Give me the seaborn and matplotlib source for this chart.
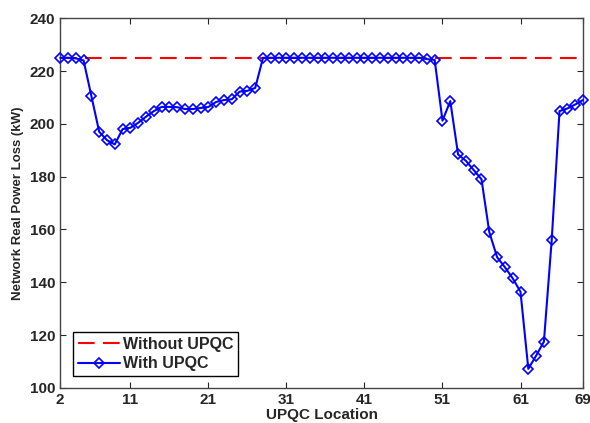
import matplotlib
matplotlib.use('Agg')
import matplotlib.pyplot as plt
import seaborn as sns
import numpy as np

# UPQC location (bus number) and network real power loss (kW)
locations = list(range(2, 70))
loss_with_upqc = [
    225.0, 225.0, 224.8, 224.0, 210.5, 197.0, 193.8, 192.2, 198.0, 198.5,   # 2-11
    200.4, 202.7, 204.8, 206.4, 206.4, 206.3, 205.6, 205.6, 206.0, 206.4,   # 12-21
    208.3, 209.0, 209.3, 212.2, 212.5, 213.6, 225.0, 225.0, 225.0, 225.0,   # 22-31
    225.0, 225.0, 225.0, 225.0, 225.0, 225.0, 225.0, 225.0, 225.0, 225.0,   # 32-41
    225.0, 225.0, 225.0, 225.0, 225.0, 225.0, 225.0, 224.5, 224.2, 201.2,   # 42-51
    208.6, 188.4, 186.0, 182.5, 179.0, 159.0, 149.5, 145.7, 141.5, 136.4,   # 52-61
    107.2, 112.2, 117.5, 156.0, 204.8, 205.8, 207.3, 209.0,                 # 62-69
]
loss_without_upqc = 225.0
xticks = [2, 11, 21, 31, 41, 51, 61, 69]

sns.set_style('ticks')
plt.rcParams['font.family'] = ['Liberation Sans', 'DejaVu Sans']
plt.rcParams['font.weight'] = 'bold'

fig = plt.figure(figsize=(5.9, 4.23), dpi=100)
ax = fig.add_axes([0.102, 0.083, 0.886, 0.874])

sns.lineplot(x=locations, y=[loss_without_upqc] * len(locations), ax=ax,
             color='red', linestyle=(0, (8, 4)), linewidth=1.5, label='Without UPQC')
sns.lineplot(x=locations, y=loss_with_upqc, ax=ax, color='blue', linewidth=1.5,
             marker='D', markersize=5, markerfacecolor='none', markeredgecolor='blue',
             markeredgewidth=1.2, label='With UPQC', clip_on=False, zorder=5)

ax.set_xlim(2, 69)
ax.set_ylim(100, 240)
ax.set_xticks(xticks)
ax.set_yticks(range(100, 241, 20))
ax.tick_params(direction='in', top=True, right=True, labelsize=11, length=4)
for lab in ax.get_xticklabels() + ax.get_yticklabels():
    lab.set_fontweight('bold')
for s in ax.spines.values():
    s.set_color('#444444')
    s.set_linewidth(1)

ax.set_xlabel('UPQC Location', fontsize=11, fontweight='bold', labelpad=1)
ax.set_ylabel('Network Real Power Loss (kW)', fontsize=9.5, fontweight='bold', labelpad=4)

leg = ax.legend(loc='lower left', bbox_to_anchor=(0.01, 0.01), fancybox=False,
                edgecolor='black', framealpha=1, fontsize=11.5, handlelength=2.6,
                borderpad=0.3, labelspacing=0.3, handletextpad=0.2)
for t in leg.get_texts():
    t.set_fontweight('bold')

fig.savefig('out.png', dpi=100)
